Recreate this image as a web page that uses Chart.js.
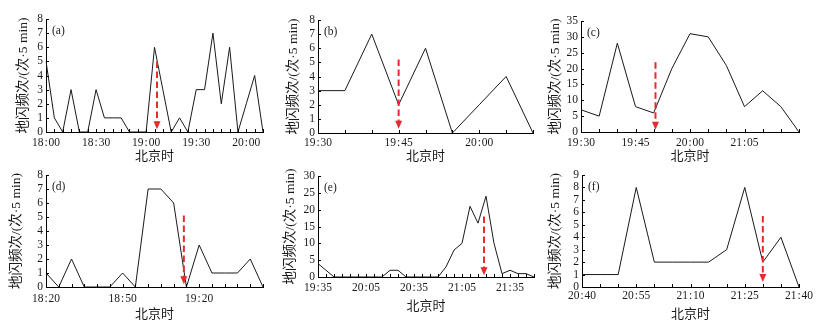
<!DOCTYPE html>
<html><head><meta charset="utf-8">
<script src="https://cdn.jsdelivr.net/npm/chart.js@4.4.1/dist/chart.umd.min.js"></script>
<style>
html,body{margin:0;padding:0;background:#fff;}
#wrap{position:relative;width:828px;height:328px;overflow:hidden;background:#fff;}
canvas{position:absolute;}
</style></head><body><div id="wrap"></div>
<script>
// ---------- data ----------
const timesA = ['18:00','18:05','18:10','18:15','18:20','18:25','18:30','18:35','18:40','18:45','18:50','18:55','19:00','19:05','19:10','19:15','19:20','19:25','19:30','19:35','19:40','19:45','19:50','19:55','20:00','20:05','20:10'];
const valuesA = [5,1,0,3,0,0,3,1,1,1,0,0,0,6,3,0,1,0,3,3,7,2,6,0,2,4,0];
const ticksA = ['18:00','18:30','19:00','19:30','20:00'];

const timesB = ['19:30','19:35','19:40','19:45','19:50','19:55','20:00','20:05','20:10'];
const valuesB = [3,3,7,2,6,0,2,4,0];
const ticksB = ['19:30','19:45','20:00'];

const timesC = ['19:30','','','19:45','','','20:00','','','21:05','','',''];
const valuesC = [7,5,28,8,6,20,31,30,21,8,13,8,0];
const ticksC = ['19:30','19:45','20:00','21:05'];

const timesD = ['18:20','18:25','18:30','18:35','18:40','18:45','18:50','18:55','19:00','19:05','19:10','19:15','19:20','19:25','19:30','19:35','19:40','19:45'];
const valuesD = [1,0,2,0,0,0,1,0,7,7,6,0,3,1,1,1,2,0];
const ticksD = ['18:20','18:50','19:20'];

const timesE = ['19:35','19:40','19:45','19:50','19:55','20:00','20:05','20:10','20:15','20:20','20:25','20:30','20:35','20:40','20:45','20:50','20:55','21:00','21:05','21:10','21:15','21:20','21:25','21:30','21:35','21:40','21:45','21:50'];
const valuesE = [4,2,0,0,0,0,0,0,0,2,2,0,0,0,0,0,3,8,10,21,16,24,10,1,2,1,1,0];
const ticksE = ['19:35','20:05','20:35','21:05','21:35'];

const timesF = ['20:40','20:45','20:50','20:55','21:00','21:05','21:10','21:15','21:20','21:25','21:30','21:35','21:40'];
const valuesF = [1,1,1,8,2,2,2,2,3,8,2,4,0];
const ticksF = ['20:40','20:55','21:10','21:25','21:40'];

// red arrows: x position (category index), start value, tip value
const arrowX   = [13.3, 3, 4.1, 10.8, 20.75, 10];
const arrowTop = [5.0, 5.2, 22, 5.1, 18, 5.7];
const arrowTip = [0.2, 0.3, 0.7, 0.2, 0.5, 0.4];

const panelNames = ['(a)','(b)','(c)','(d)','(e)','(f)'];
const yMax  = [8, 8, 35, 8, 30, 9];
const yStep = [1, 1, 5, 1, 5, 1];

// ---------- layout ----------
const SERIF = "'Liberation Serif','Times New Roman','Noto Sans CJK SC',serif";
const CJK = "'Liberation Serif','Noto Sans CJK SC',serif";
const TXT = '#1a1a1a';
const RED = '#e52b2b';
const panels = [
  {times:timesA, values:valuesA, ticks:ticksA, box:[46,19,263,132], labelOff:11, titleOff:25, yTitleOff:23},
  {times:timesB, values:valuesB, ticks:ticksB, box:[318,20,533,133], labelOff:10, titleOff:24, yTitleOff:25},
  {times:timesC, values:valuesC, ticks:ticksC, box:[581,21,799,132], labelOff:11, titleOff:25, yTitleOff:26},
  {times:timesD, values:valuesD, ticks:ticksD, box:[46,175,263,287], labelOff:11.5, titleOff:28, yTitleOff:30},
  {times:timesE, values:valuesE, ticks:ticksE, box:[318,176,534,277], labelOff:10.5, titleOff:29.5, yTitleOff:28},
  {times:timesF, values:valuesF, ticks:ticksF, box:[582,175,799,287], labelOff:8.5, titleOff:28, yTitleOff:27}
];

const wrap = document.getElementById('wrap');
const fmt = s => s.replace(':', '\u200A:\u200A');

function decor(i) {
  return {
    id: 'decor' + i,
    afterDatasetsDraw(chart) {
      const ctx = chart.ctx, xs = chart.scales.x, ys = chart.scales.y, ca = chart.chartArea;
      ctx.save();
      // inward tick marks
      ctx.strokeStyle = '#000'; ctx.lineWidth = 1;
      ctx.beginPath();
      for (let k = 0; k < chart.data.labels.length; k++) {
        const px = Math.round(xs.getPixelForValue(k)) + 0.5;
        ctx.moveTo(px, ca.bottom); ctx.lineTo(px, ca.bottom - 3);
      }
      ys.ticks.forEach(t => {
        const py = Math.round(ys.getPixelForValue(t.value)) + 0.5;
        ctx.moveTo(ca.left, py); ctx.lineTo(ca.left + 3, py);
      });
      ctx.stroke();
      // panel label
      ctx.fillStyle = TXT;
      ctx.font = "11.5px " + SERIF;
      ctx.textBaseline = 'middle'; ctx.textAlign = 'left';
      ctx.fillText(panelNames[i], ca.left + 6, ca.top + 12);
      // red arrow
      const ax = xs.getPixelForValue(arrowX[i]);
      const y1 = ys.getPixelForValue(arrowTop[i]);
      const yt = ys.getPixelForValue(arrowTip[i]);
      const hh = 8, hw = 3.5;
      ctx.strokeStyle = RED; ctx.fillStyle = RED; ctx.lineWidth = 2;
      ctx.setLineDash([6.5, 3.5]);
      ctx.beginPath(); ctx.moveTo(ax, y1); ctx.lineTo(ax, yt - hh + 1); ctx.stroke();
      ctx.setLineDash([]);
      ctx.beginPath(); ctx.moveTo(ax - hw, yt - hh); ctx.lineTo(ax + hw, yt - hh); ctx.lineTo(ax, yt); ctx.closePath(); ctx.fill();
      ctx.restore();
    }
  };
}

panels.forEach((p, i) => {
  const W = 40, H = 42, TP = 10, RP = 18;
  const cx = p.box[0] - W, cy = p.box[1] - TP;
  const cw = p.box[2] - cx + RP, ch = p.box[3] - cy + H;
  const cv = document.createElement('canvas');
  cv.style.left = cx + 'px'; cv.style.top = cy + 'px';
  cv.style.width = cw + 'px'; cv.style.height = ch + 'px';
  cv.width = cw; cv.height = ch;
  wrap.appendChild(cv);
  new Chart(cv, {
    type: 'line',
    data: { labels: p.times, datasets: [{ data: p.values, borderColor: '#1a1a1a', borderWidth: 1, pointRadius: 0, tension: 0, fill: false }] },
    options: {
      responsive: false, animation: false, devicePixelRatio: 1,
      layout: { padding: { left: 0, top: TP, right: RP, bottom: 0 } },
      plugins: { legend: { display: false }, tooltip: { enabled: false } },
      scales: {
        x: {
          type: 'category', offset: false,
          grid: { display: true, drawOnChartArea: false, drawTicks: false },
          border: { display: true, color: '#000', width: 1 },
          ticks: {
            autoSkip: false, maxRotation: 0, minRotation: 0,
            padding: p.labelOff - 6.9, color: TXT, font: { family: SERIF, size: 11.5 },
            callback: function (v) { const l = this.getLabelForValue(v); return p.ticks.includes(l) ? fmt(l) : ''; }
          },
          title: { display: true, text: '北京时', color: TXT, font: { family: CJK, size: 13 }, padding: { top: 0, bottom: H - p.titleOff - 7.8 } },
          afterFit: s => { s.height = H; }
        },
        y: {
          min: 0, max: yMax[i],
          grid: { display: true, drawOnChartArea: false, drawTicks: false },
          border: { display: true, color: '#000', width: 1 },
          ticks: { stepSize: yStep[i], autoSkip: false, padding: 3, color: TXT, font: { family: SERIF, size: 11.5 } },
          title: { display: true, text: '地闪频次/(次·5 min)', color: TXT, font: { family: CJK, size: 13.5 }, padding: { top: W - p.yTitleOff - 8.1, bottom: 0 } },
          afterFit: s => { s.width = W; }
        }
      }
    },
    plugins: [decor(i)]
  });
});
</script>
</body></html>
